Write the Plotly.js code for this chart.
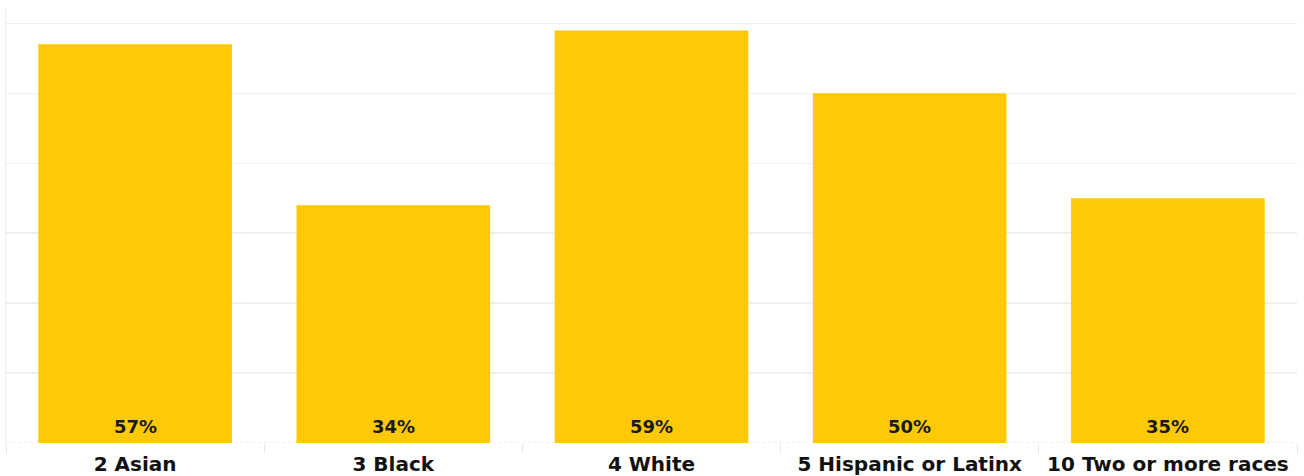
<!DOCTYPE html>
<html><head><meta charset="utf-8">
<script src="https://cdn.plot.ly/plotly-3.0.1.min.js"></script>
<style>body{margin:0;background:#fff}#c{width:1304px;height:476px}</style>
</head><body><div id="c"></div>
<script>
const categories = ["2 Asian", "3 Black", "4 White", "5 Hispanic or Latinx", "10 Two or more races"];
const values = [57, 34, 59, 50, 35];
const labels = values.map(v => v + "%");

const trace = {
  type: "bar", x: categories, y: values,
  marker: {color: "#FFCA05"}, hoverinfo: "none"
};
const annotations = categories.map((c, i) => ({
  x: c, y: 0, xref: "x", yref: "y", text: labels[i], showarrow: false,
  yanchor: "bottom", yshift: 4,
  font: {family: "DejaVu Sans", size: 18, color: "#1a1a1a", weight: "bold"}
}));
const layout = {
  width: 1304, height: 476,
  margin: {l: 6, r: 7, t: 8, b: 33},
  paper_bgcolor: "#fff", plot_bgcolor: "#fff",
  bargap: 0.25, showlegend: false,
  xaxis: {type: "category", tickson: "boundaries", ticks: "outside", ticklen: 9, tickcolor: "#e6e6e6",
    ticklabelstandoff: 7,
    tickfont: {family: "DejaVu Sans", size: 20, color: "#111", weight: "bold"}, showgrid: false, zeroline: false, showline: false},
  yaxis: {range: [0, 62.2], dtick: 10, showticklabels: false, gridcolor: "#efefef", gridwidth: 1.5,
    zeroline: false, showline: true, linecolor: "#eeeeee", linewidth: 1.5, ticks: ""},
  annotations: annotations,
  shapes: [{type: "line", xref: "paper", yref: "y", x0: 0, x1: 1, y0: 0, y1: 0,
    line: {color: "#dddddd", width: 1, dash: "dot"}, layer: "below"}]
};
Plotly.newPlot("c", [trace], layout, {staticPlot: true});
</script></body></html>
